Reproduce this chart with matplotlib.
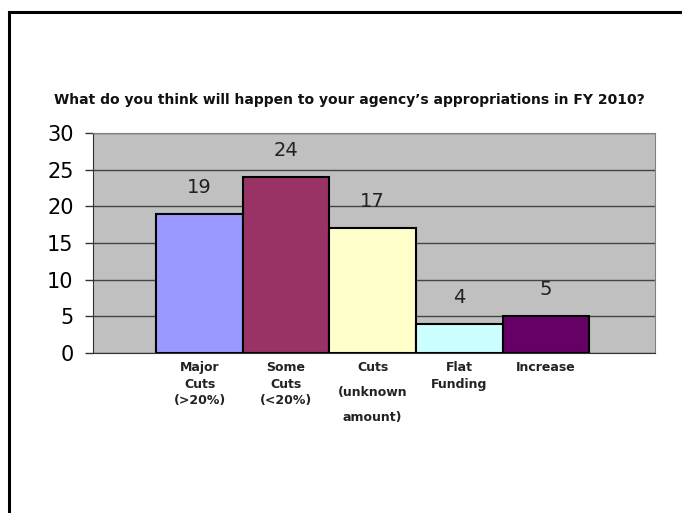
import matplotlib.pyplot as plt
from matplotlib.lines import Line2D

# Datos
categorias = ["Major\nCuts\n(>20%)", "Some\nCuts\n(<20%)", "Cuts\n(unknown\namount)",
              "Flat\nFunding", "Increase"]
valores = [19, 24, 17, 4, 5]
colores = ["#9999FF", "#993366", "#FFFFCC", "#CCFFFF", "#660066"]
espaciado = [1.35, 1.35, 2.2, 1.35, 1.35]
yticks = [0, 5, 10, 15, 20, 25, 30]

plt.rcParams["font.family"] = ["DejaVu Sans"]

fig = plt.figure(figsize=(6.82, 5.13), dpi=100, facecolor="white")
ax = fig.add_axes([0.1364, 0.3119, 0.824, 0.4288])
ax.set_facecolor("#C0C0C0")

x = list(range(len(valores)))
ax.bar(x, valores, width=1.0, color=colores, edgecolor="black", linewidth=1.5, zorder=3)

for xi, v in zip(x, valores):
    ax.annotate(str(v), (xi, v), xytext=(0, 19), textcoords="offset points",
                ha="center", va="center", fontsize=14, color="#222222")

ax.set_xlim(-1.23, 5.26)
ax.set_ylim(0, 30)
ax.set_yticks(yticks)
ax.tick_params(axis="y", labelsize=15, length=6, width=1, color="#333333", pad=8)
ax.yaxis.grid(True, color="#444444", linewidth=1)
ax.set_axisbelow(True)

ax.set_xticks(x)
ax.set_xticklabels([])
ax.tick_params(axis="x", length=0)
for xi, lab, ls in zip(x, categorias, espaciado):
    ax.annotate(lab, (xi, 0), xytext=(0, -6), textcoords="offset points",
                ha="center", va="top", fontsize=9, fontweight="bold",
                linespacing=ls, color="#222222")

for lado in ["top", "right"]:
    ax.spines[lado].set_color("#808080")
ax.spines["left"].set_color("#333333")
ax.spines["bottom"].set_color("#333333")

fig.text(0.513, 0.805,
         "What do you think will happen to your agency\u2019s appropriations in FY 2010?",
         ha="center", va="center", fontsize=10, fontweight="bold", color="#111111")

# Marco de la diapositiva (solo bordes visibles)
fig.add_artist(Line2D([0.0135, 0.0135], [0.0, 0.977], color="black", linewidth=2.2,
                      transform=fig.transFigure))
fig.add_artist(Line2D([0.0135, 1.0], [0.977, 0.977], color="black", linewidth=2.2,
                      transform=fig.transFigure))

fig.savefig("out.png", dpi=100, facecolor="white")
